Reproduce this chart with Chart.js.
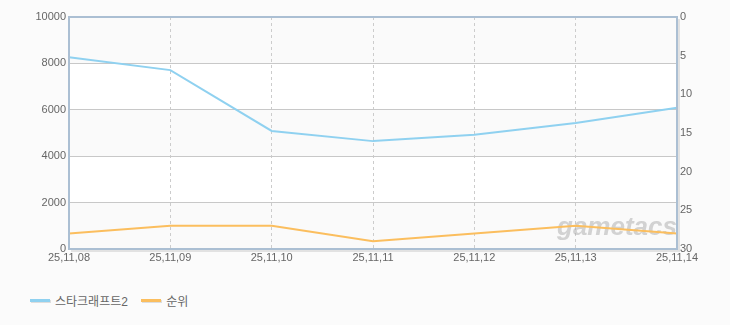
<!DOCTYPE html>
<html>
<head>
<meta charset="utf-8">
<script src="https://cdn.jsdelivr.net/npm/chart.js@4.4.1/dist/chart.umd.min.js"></script>
<style>
    body { margin: 0; background: #fbfbfb; font-family: "Liberation Sans", "Noto Sans CJK KR", sans-serif; }
    #wrap { position: relative; width: 730px; height: 270px; }
    .legend { position: absolute; top: 292px; left: 30px; font-size: 12px; color: #666; }
    .legend span { display: inline-block; vertical-align: middle; }
    .legend .mark { width: 20px; height: 3px; margin-right: 5px; box-shadow: 1px 1px 0 #ddd; }
    .legend .item { margin-right: 10px; }
</style>
</head>
<body>
<div id="wrap"><canvas id="game-chart"></canvas></div>
<div class="legend">
    <span class="item"><span class="mark" style="background:#8fd1f0"></span><span>스타크래프트2</span></span>
    <span class="item"><span class="mark" style="background:#fbbe5e"></span><span>순위</span></span>
</div>
<script>
const labels = ['25,11,08', '25,11,09', '25,11,10', '25,11,11', '25,11,12', '25,11,13', '25,11,14']
const viewers = [8270, 7710, 5090, 4650, 4920, 5430, 6090]
const ranks = [28, 27, 27, 29, 28, 27, 28]

const font = { family: '"Liberation Sans", "Noto Sans CJK KR", sans-serif', size: 11 }

// start: background bands, frame and watermark
const framePlugin = {
    id: 'frame',
    beforeDraw(chart) {
        const { ctx, chartArea: a, scales } = chart
        const y = scales.y
        ctx.save()
        y.ticks.forEach((t, i) => {
            if (i === y.ticks.length - 1) return
            const top = y.getPixelForValue(y.ticks[i + 1].value)
            const bottom = y.getPixelForValue(t.value)
            ctx.fillStyle = (i % 2 === 0) ? '#fafafa' : '#ffffff'
            ctx.fillRect(a.left, top, a.right - a.left, bottom - top)
        })
        ctx.restore()
    },
    beforeDatasetsDraw(chart) {
        const { ctx, chartArea: a } = chart
        ctx.save()
        ctx.font = 'italic bold 26px "Liberation Sans", sans-serif'
        ctx.fillStyle = 'rgba(170,170,170,0.5)'
        ctx.textBaseline = 'middle'
        ctx.fillText('gametacs', a.right - 120, a.bottom - 21)
        ctx.restore()
    },
    afterDraw(chart) {
        const { ctx, chartArea: a } = chart
        ctx.save()
        ctx.strokeStyle = '#e2e2e2'
        ctx.lineWidth = 2
        ctx.beginPath()
        ctx.moveTo(a.left + 2, a.bottom + 2)
        ctx.lineTo(a.right + 2, a.bottom + 2)
        ctx.lineTo(a.right + 2, a.top + 2)
        ctx.stroke()
        ctx.strokeStyle = '#abbfd3'
        ctx.lineWidth = 2
        ctx.strokeRect(a.left, a.top, a.right - a.left, a.bottom - a.top)
        ctx.restore()
    }
}
// end: background bands, frame and watermark

const gameChart = new Chart(document.getElementById('game-chart'), {
    type: 'line',
    data: {
        labels: labels,
        datasets: [{
            label: '스타크래프트2',
            data: viewers,
            yAxisID: 'y',
            borderColor: '#8fd1f0',
            borderWidth: 2,
            pointRadius: 0,
            tension: 0
        }, {
            label: '순위',
            data: ranks,
            yAxisID: 'y1',
            borderColor: '#fbbe5e',
            borderWidth: 2,
            pointRadius: 0,
            tension: 0
        }]
    },
    options: {
        responsive: true,
        maintainAspectRatio: false,
        animation: false,
        layout: { padding: { top: 17, left: 0, right: 0, bottom: 0 } },
        plugins: {
            legend: { display: false },
            tooltip: { enabled: false }
        },
        scales: {
            x: {
                offset: false,
                afterFit(scale) { scale.height = 21 },
                grid: { color: '#cccccc', drawTicks: false },
                border: { display: false, dash: [3, 3] },
                ticks: { color: '#666', font: font, padding: 2, maxRotation: 0, autoSkip: false }
            },
            y: {
                position: 'left',
                min: 0,
                max: 10000,
                afterFit(scale) { scale.width = 69 },
                grid: { color: '#c8c8c8', drawTicks: false },
                border: { display: false },
                ticks: { stepSize: 2000, color: '#666', font: font, padding: 3, callback: v => String(v) }
            },
            y1: {
                position: 'right',
                min: 0,
                max: 30,
                reverse: true,
                afterFit(scale) { scale.width = 53 },
                grid: { display: false, drawTicks: false },
                border: { display: false },
                ticks: { stepSize: 5, color: '#666', font: font, padding: 3 }
            }
        }
    },
    plugins: [framePlugin]
})
</script>
</body>
</html>
